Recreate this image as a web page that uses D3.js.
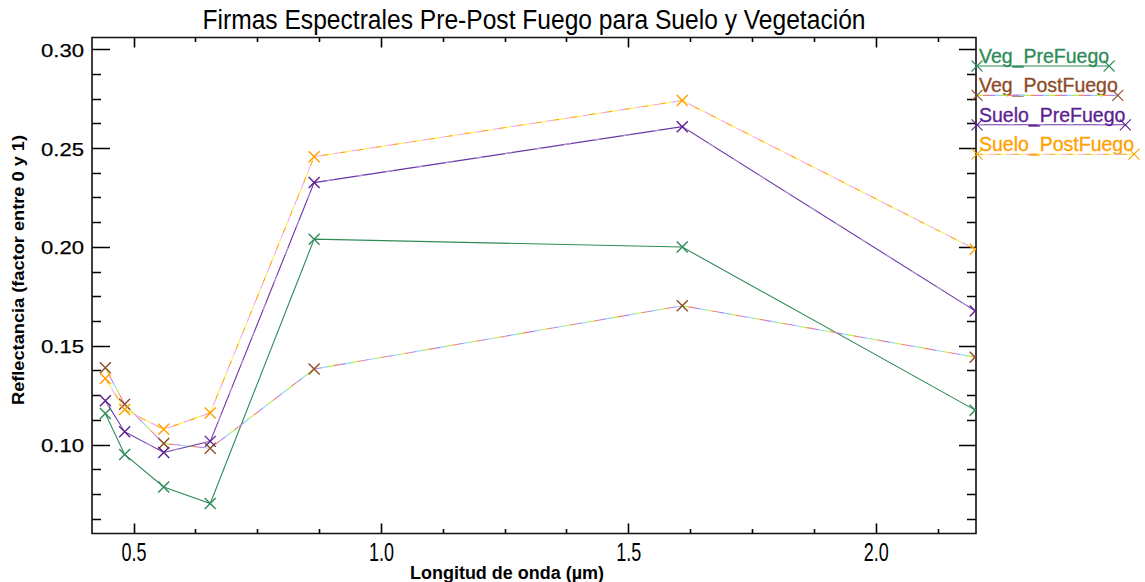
<!DOCTYPE html>
<html><head><meta charset="utf-8">
<script src="https://cdn.jsdelivr.net/npm/d3@7"></script>
<style>body{margin:0;background:#fff}svg{display:block}</style>
</head><body>
<svg id="c" width="1145" height="582"></svg>
<script>
// ---- data ----
const wavelengths = [0.443, 0.482, 0.561, 0.655, 0.865, 1.609, 2.201];
const seriesNames = ["Veg_PreFuego", "Veg_PostFuego", "Suelo_PreFuego", "Suelo_PostFuego"];
const vegPre    = [0.1157, 0.0950, 0.0785, 0.0702, 0.2039, 0.1999, 0.1174];
const vegPost   = [0.1388, 0.1204, 0.1005, 0.0981, 0.1382, 0.1702, 0.1442];
const sueloPre  = [0.1221, 0.1065, 0.0960, 0.1016, 0.2325, 0.2608, 0.1676];
const sueloPost = [0.1334, 0.1177, 0.1077, 0.1160, 0.2456, 0.2740, 0.1988];
const xMajorTicks = [0.5, 1.0, 1.5, 2.0];
const yMajorTicks = [0.10, 0.15, 0.20, 0.25, 0.30];
const titleText = "Firmas Espectrales Pre-Post Fuego para Suelo y Vegetación";
const xLabelText = "Longitud de onda (µm)";
const yLabelText = "Reflectancia (factor entre 0 y 1)";

// ---- layout ----
const svg = d3.select("#c");
const m = {l: 92, r: 976, t: 37.5, b: 533.5};
const x = d3.scaleLinear().domain([0.416, 2.2027]).range([m.l, m.r]);
const y = d3.scaleLinear().domain([0.055, 0.3059]).range([m.b, m.t]);
const FONT = "'Liberation Sans', Arial, Helvetica, sans-serif";
const axisColor = "#111";

svg.append("rect").attr("width", 1145).attr("height", 582).attr("fill", "#fff");

const styles = [
  {color: "#2E8B57", strokes: [{c: "#2E8B57"}]},
  {color: "#8E4B27", strokes: [
    {c: "#B4F040", d: "6 18", o: 0},
    {c: "#F5806E", d: "6 18", o: -6},
    {c: "#B483F0", d: "6 18", o: -12},
    {c: "#8FD6F2", d: "6 18", o: -18}]},
  {color: "#5B1F91", strokes: [{c: "#6A35A5"}, {c: "#B79BD8", d: "7 23", o: 0}]},
  {color: "#FFA000", strokes: [
    {c: "#FFA500", d: "6 12", o: 0},
    {c: "#FFEE55", d: "6 12", o: -6},
    {c: "#F2A6F0", d: "6 12", o: -12}]}
];
const allValues = [vegPre, vegPost, sueloPre, sueloPost];

svg.append("clipPath").attr("id", "clip").append("rect")
  .attr("x", m.l).attr("y", m.t).attr("width", m.r - m.l).attr("height", m.b - m.t);

// ---- ticks (positioned by the scales) ----
const minorX = d3.range(0.375, 2.21, 0.125).filter(v => v >= 0.416 && v <= 2.2027 && !xMajorTicks.some(t => Math.abs(t - v) < 1e-6));
const minorY = d3.range(0.0625, 0.306, 0.0125).filter(v => !yMajorTicks.some(t => Math.abs(t - v) < 1e-6));
let tickD = "";
function addX(vals, len) {
  vals.forEach(v => {
    const px = Math.round(x(v)) + 0.5;
    tickD += `M${px},${m.b}V${m.b - len}M${px},${m.t}V${m.t + len}`;
  });
}
function addY(vals, lenL, lenR) {
  vals.forEach(v => {
    const py = Math.round(y(v)) + 0.5;
    tickD += `M${m.l},${py}H${m.l + lenL}M${m.r},${py}H${m.r - lenR}`;
  });
}
addX(xMajorTicks, 10); addX(minorX, 4.5);
addY(yMajorTicks, 18, 17); addY(minorY, 9, 9);
svg.append("path").attr("d", tickD).attr("fill", "none")
  .attr("stroke", "#000").attr("stroke-width", 1.6);

// ---- axis labels via d3 axes ----
const gxb = svg.append("g").attr("transform", `translate(0,${m.b})`)
  .call(d3.axisBottom(x).tickValues(xMajorTicks).tickSize(0).tickFormat(d3.format(".1f")));
gxb.select(".domain").remove();
gxb.selectAll(".tick line").remove();
gxb.selectAll(".tick text").attr("y", 27).attr("dy", null)
  .attr("font-family", FONT).attr("font-size", 25).attr("fill", "#000")
  .attr("textLength", 25).attr("lengthAdjust", "spacingAndGlyphs");
const gyl = svg.append("g").attr("transform", `translate(${m.l},0)`)
  .call(d3.axisLeft(y).tickValues(yMajorTicks).tickSize(0).tickFormat(d3.format(".2f")));
gyl.select(".domain").remove();
gyl.selectAll(".tick line").remove();
gyl.selectAll(".tick text").attr("x", -8).attr("dy", "0.37em")
  .attr("font-family", FONT).attr("font-size", 19).attr("fill", "#000")
  .attr("stroke", "#000").attr("stroke-width", 0.25)
  .attr("textLength", 43).attr("lengthAdjust", "spacingAndGlyphs");

// frame
svg.append("path")
  .attr("d", `M${m.l},${m.t}H${m.r}V${m.b}H${m.l}Z`)
  .attr("fill", "none").attr("stroke", axisColor).attr("stroke-width", 1.6);

// ---- series ----
const line = d3.line().x((d, i) => x(wavelengths[i])).y(d => y(d));
const plot = svg.append("g").attr("clip-path", "url(#clip)");
const xMark = "M-5.5,-5.5L5.5,5.5M-5.5,5.5L5.5,-5.5";

allValues.forEach((vals, si) => {
  styles[si].strokes.forEach(s => {
    plot.append("path").datum(vals).attr("d", line)
      .attr("fill", "none").attr("stroke", s.c).attr("stroke-width", 1.1)
      .attr("stroke-dasharray", s.d || null).attr("stroke-dashoffset", s.o || 0);
  });
});
allValues.forEach((vals, si) => {
  plot.selectAll(null).data(vals).enter().append("path")
    .attr("d", xMark)
    .attr("transform", (d, i) => `translate(${x(wavelengths[i])},${y(d)})`)
    .attr("stroke", styles[si].color).attr("stroke-width", 1.4).attr("fill", "none");
});

// ---- legend ----
seriesNames.forEach((name, i) => {
  const st = styles[i];
  const yb = 63 + i * 29.4;
  const t = svg.append("text").attr("x", 979).attr("y", yb)
    .attr("font-family", FONT).attr("font-size", 19.5).attr("fill", st.color)
    .attr("stroke", st.color).attr("stroke-width", 0.3).text(name);
  const len = t.node().getComputedTextLength();
  const x0 = 977, x1 = 979 + len, ly = yb + 3;
  st.strokes.forEach(s => {
    svg.append("line").attr("x1", x0).attr("x2", x1).attr("y1", ly).attr("y2", ly)
      .attr("stroke", s.c).attr("stroke-width", 1.1)
      .attr("stroke-dasharray", s.d || null).attr("stroke-dashoffset", s.o || 0);
  });
  [x0, x1].forEach(px => {
    svg.append("path").attr("d", xMark).attr("transform", `translate(${px},${ly})`)
      .attr("stroke", st.color).attr("stroke-width", 1.1).attr("fill", "none");
  });
});

// ---- titles ----
svg.append("text").attr("x", 534).attr("y", 29).attr("text-anchor", "middle")
  .attr("font-family", FONT).attr("font-size", 27).attr("fill", "#000")
  .attr("textLength", 663).attr("lengthAdjust", "spacingAndGlyphs").text(titleText);
svg.append("text").attr("x", 507).attr("y", 579).attr("text-anchor", "middle")
  .attr("font-family", FONT).attr("font-weight", "bold").attr("font-size", 18).attr("fill", "#000")
  .attr("textLength", 194).attr("lengthAdjust", "spacingAndGlyphs").text(xLabelText);
svg.append("text").attr("transform", "translate(24,270) rotate(-90)").attr("text-anchor", "middle")
  .attr("font-family", FONT).attr("font-weight", "bold").attr("font-size", 16).attr("fill", "#000")
  .attr("textLength", 270).attr("lengthAdjust", "spacingAndGlyphs").text(yLabelText);
</script>
</body></html>
